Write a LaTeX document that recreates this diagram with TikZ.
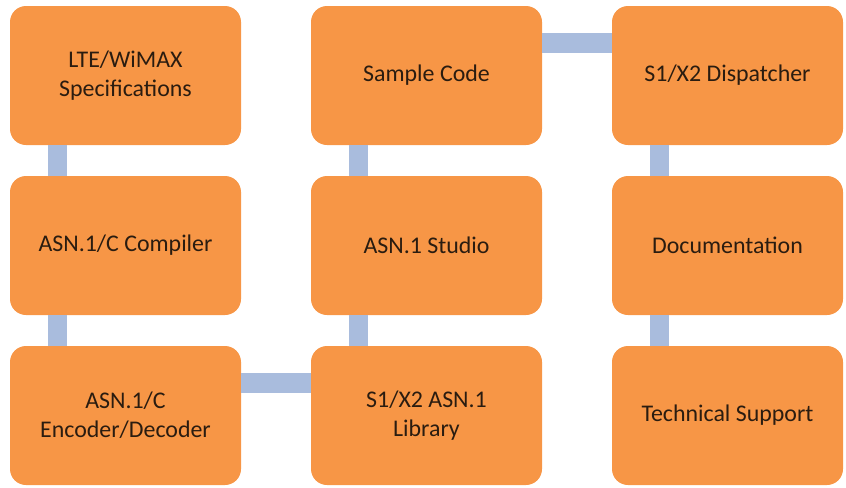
\documentclass[tikz,border=0pt]{standalone}
\usepackage{fontspec}
\setmainfont{Carlito}
\usetikzlibrary{positioning}
\definecolor{boxorange}{HTML}{F79646}
\definecolor{linkblue}{HTML}{A9BCDD}
\definecolor{textdark}{HTML}{2A1C10}

\begin{document}
\begin{tikzpicture}[
    node distance=0.775cm and 1.75cm,
    box/.style={rectangle, rounded corners=0.4cm, fill=boxorange, text=textdark, align=center, minimum width=5.775cm, minimum height=3.475cm, inner sep=2pt, outer sep=0pt, font=\fontsize{17}{20.5}\selectfont},
    link/.style={draw=linkblue, line width=0.48cm}
]
\useasboundingbox (0,0) rectangle (21.15,-12.175);

% 第一列(从上到下)
\node (spec) [box] at (3.1375,-1.8875) {LTE/WiMAX\\Specifications};
\node (compiler) [box, below=of spec] {ASN.1/C Compiler};
\node (codec) [box, below=of compiler] {ASN.1/C\\Encoder/Decoder};

% 第二列(从下到上)
\node (library) [box, right=of codec] {S1/X2 ASN.1\\Library};
\node (studio) [box, above=of library] {ASN.1 Studio};
\node (sample) [box, above=of studio] {Sample Code};

% 第三列(从上到下)
\node (dispatcher) [box, right=of sample] {S1/X2 Dispatcher};
\node (docs) [box, below=of dispatcher] {Documentation};
\node (support) [box, below=of docs] {Technical Support};

% 连接线
\draw [link] ([xshift=1.19cm]spec.south west) -- ([xshift=1.19cm]compiler.north west);
\draw [link] ([xshift=1.19cm]compiler.south west) -- ([xshift=1.19cm]codec.north west);
\draw [link] ([yshift=-0.925cm]codec.north east) -- ([yshift=-0.925cm]library.north west);
\draw [link] ([xshift=1.19cm]library.north west) -- ([xshift=1.19cm]studio.south west);
\draw [link] ([xshift=1.19cm]studio.north west) -- ([xshift=1.19cm]sample.south west);
\draw [link] ([yshift=-0.925cm]sample.north east) -- ([yshift=-0.925cm]dispatcher.north west);
\draw [link] ([xshift=1.19cm]dispatcher.south west) -- ([xshift=1.19cm]docs.north west);
\draw [link] ([xshift=1.19cm]docs.south west) -- ([xshift=1.19cm]support.north west);

\end{tikzpicture}
\end{document}
